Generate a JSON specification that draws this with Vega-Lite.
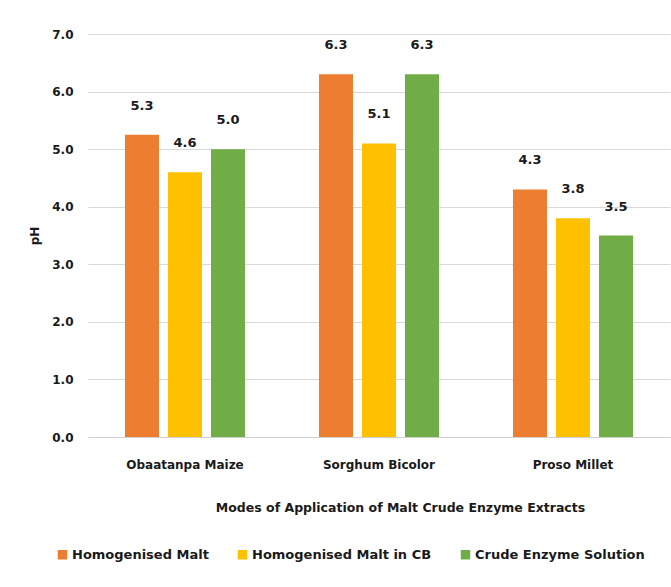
{
  "$schema": "https://vega.github.io/schema/vega-lite/v6.json",
  "width": 582,
  "height": 403,
  "autosize": {"type": "none"},
  "padding": {"left": 88, "top": 34, "right": 1, "bottom": 150},
  "background": "white",
  "config": {"font": "DejaVu Sans", "view": {"stroke": null}},
  "data": {
    "values": [
      {"crop": "Obaatanpa Maize", "mode": "Homogenised Malt", "pH": 5.25},
      {"crop": "Obaatanpa Maize", "mode": "Homogenised Malt in CB", "pH": 4.6},
      {"crop": "Obaatanpa Maize", "mode": "Crude Enzyme Solution", "pH": 5.0},
      {"crop": "Sorghum Bicolor", "mode": "Homogenised Malt", "pH": 6.3},
      {"crop": "Sorghum Bicolor", "mode": "Homogenised Malt in CB", "pH": 5.1},
      {"crop": "Sorghum Bicolor", "mode": "Crude Enzyme Solution", "pH": 6.3},
      {"crop": "Proso Millet", "mode": "Homogenised Malt", "pH": 4.3},
      {"crop": "Proso Millet", "mode": "Homogenised Malt in CB", "pH": 3.8},
      {"crop": "Proso Millet", "mode": "Crude Enzyme Solution", "pH": 3.5}
    ]
  },
  "encoding": {
    "x": {
      "field": "crop",
      "type": "nominal",
      "sort": ["Obaatanpa Maize", "Sorghum Bicolor", "Proso Millet"],
      "scale": {"paddingInner": 0.335, "paddingOuter": 0.1675},
      "axis": {
        "title": "Modes of Application of Malt Crude Enzyme Extracts",
        "titleFontSize": 12.5,
        "titleFontWeight": "bold",
        "titleColor": "#1a1a1a",
        "titleX": 312,
        "titleY": 70,
        "titleAlign": "center",
        "titleBaseline": "middle",
        "labelAngle": 0,
        "labelFontSize": 12,
        "labelFontWeight": "bold",
        "labelColor": "#1a1a1a",
        "labelPadding": 22,
        "ticks": false,
        "domainColor": "#D0D0D0",
        "domainWidth": 1
      }
    },
    "xOffset": {
      "field": "mode",
      "type": "nominal",
      "sort": ["Homogenised Malt", "Homogenised Malt in CB", "Crude Enzyme Solution"],
      "scale": {"paddingInner": 0.209, "paddingOuter": 0.1045}
    },
    "y": {
      "field": "pH",
      "type": "quantitative",
      "scale": {"domain": [0, 7]},
      "axis": {
        "title": "pH",
        "titleFontSize": 12,
        "titleFontWeight": "bold",
        "titleColor": "#1a1a1a",
        "titlePadding": 10,
        "values": [0, 1, 2, 3, 4, 5, 6, 7],
        "format": ".1f",
        "labelFontSize": 12,
        "labelFontWeight": "bold",
        "labelColor": "#1a1a1a",
        "labelPadding": 15,
        "ticks": false,
        "domain": false,
        "grid": true,
        "gridColor": "#D9D9D9",
        "gridWidth": 1
      }
    }
  },
  "layer": [
    {
      "mark": {"type": "bar"},
      "encoding": {
        "color": {
          "field": "mode",
          "type": "nominal",
          "scale": {
            "domain": ["Homogenised Malt", "Homogenised Malt in CB", "Crude Enzyme Solution"],
            "range": ["#ED7D31", "#FFC000", "#70AD47"]
          },
          "legend": {
            "orient": "none",
            "legendX": -32,
            "legendY": 514,
            "direction": "horizontal",
            "title": null,
            "symbolType": "square",
            "symbolSize": 90,
            "symbolStrokeWidth": 0,
            "labelFontSize": 13,
            "labelFontWeight": "bold",
            "labelColor": "#1a1a1a",
            "labelOffset": 3,
            "labelLimit": 400,
            "columnPadding": 27
          }
        }
      }
    },
    {
      "mark": {"type": "text", "baseline": "bottom", "dy": -22, "fontWeight": "bold", "fontSize": 13, "color": "#1a1a1a"},
      "encoding": {"text": {"field": "pH", "type": "quantitative", "format": ".1f"}}
    }
  ]
}
